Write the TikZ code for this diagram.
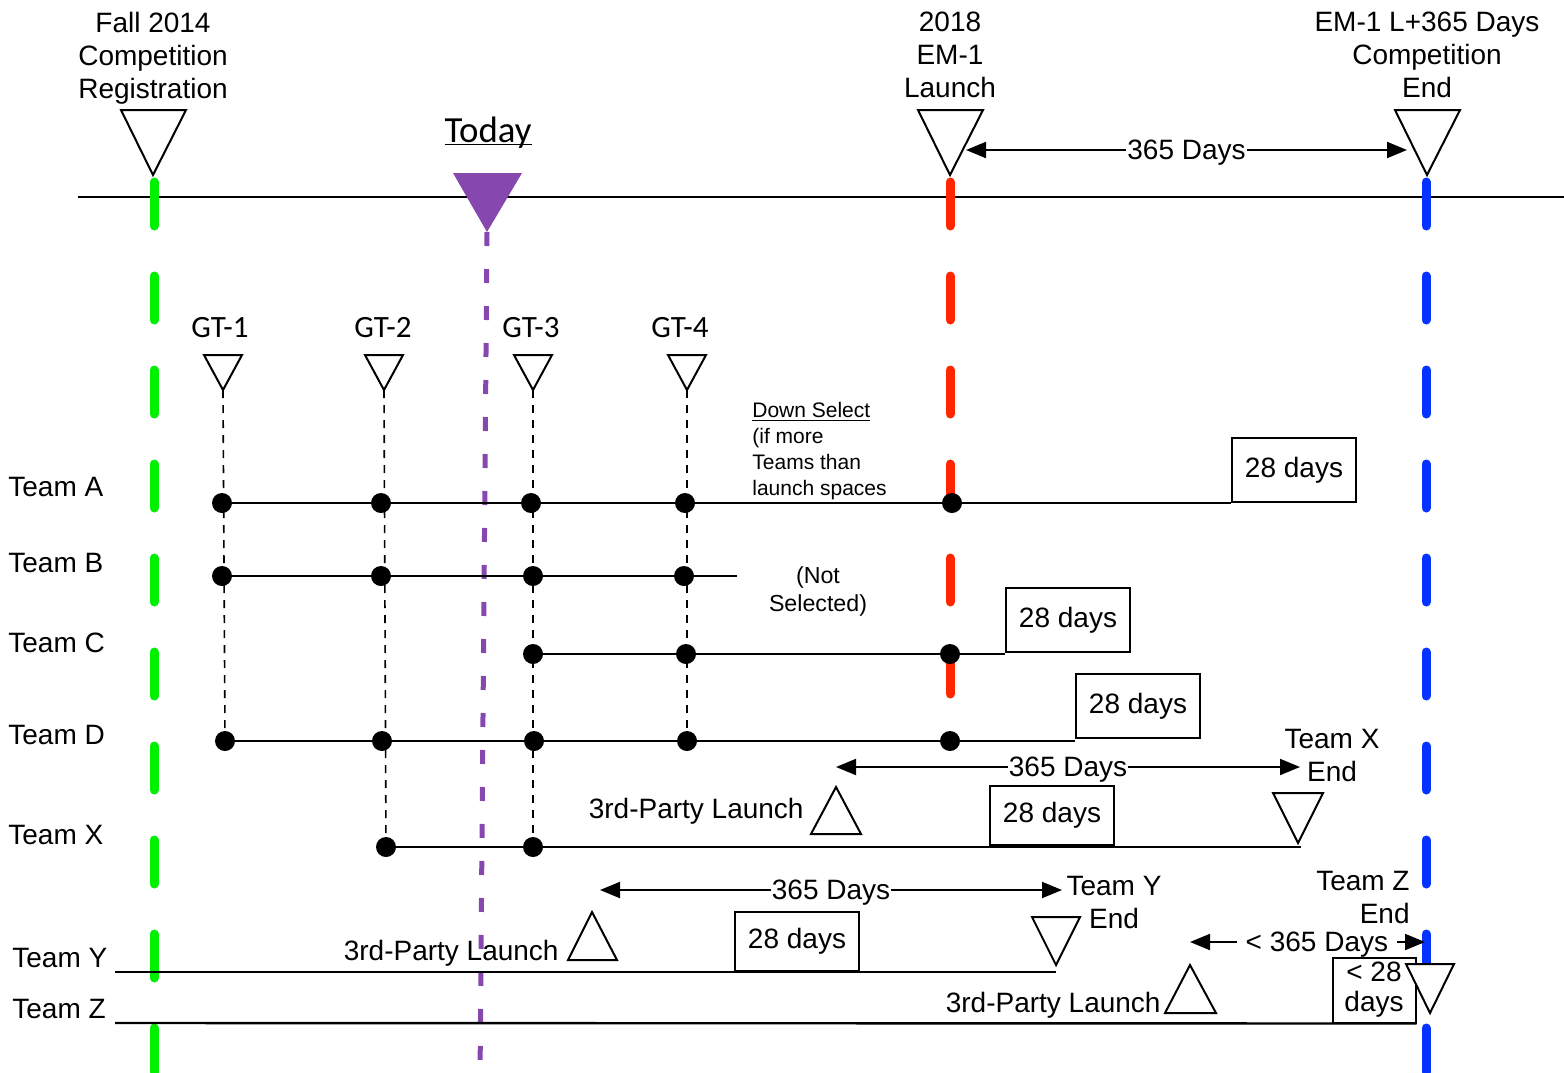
\documentclass[tikz,border=0pt]{standalone}
\usepackage{fontspec}
\setmainfont{Liberation Sans}
\newfontfamily\gtfont{Carlito}
\usetikzlibrary{arrows.meta}
\definecolor{MileGreen}{RGB}{0,240,0}
\definecolor{LaunchRed}{RGB}{255,38,0}
\definecolor{EndBlue}{RGB}{4,51,255}
\definecolor{TodayPurple}{RGB}{134,72,175}

\begin{document}
\begin{tikzpicture}[
  x=0.5pt, y=-0.5pt,
  txt/.style={font=\fontsize{14}{16.5}\selectfont, align=center, inner sep=0pt},
  notetxt/.style={font=\fontsize{10.5}{12.9}\selectfont, align=left, inner sep=0pt},
  gtlabel/.style={font=\gtfont\fontsize{15.5}{18}\selectfont, inner sep=0pt},
  marker/.style={draw=black, line width=1pt, fill=white},
  daysbox/.style={
    draw=black,
    line width=1pt,
    fill=white,
    minimum width=62pt,
    minimum height=32pt,
    align=center,
    inner sep=0pt,
    font=\fontsize{14}{15}\selectfont
  },
  dot/.style={circle, fill=black, minimum size=10pt, inner sep=0pt},
  teamline/.style={black, line width=1.2pt},
  gtline/.style={black, line width=0.8pt, dash pattern=on 4pt off 3.5pt},
  milestone/.style={line width=4.5pt, line cap=round, dash pattern=on 22pt off 25pt},
  spanarrow/.style={>={Triangle[length=10pt,width=8pt]}, <->, line width=1pt},
  spanlbl/.style={fill=white, inner sep=0.6pt, yshift=-1.5pt, font=\fontsize{14}{16}\selectfont}
]
\useasboundingbox (0,0) rectangle (1564,1072);

% main timeline
\coordinate (tlStart) at (78,197);
\coordinate (tlEnd) at (1564,197);
\draw[line width=1pt] (tlStart) -- (tlEnd);

% milestone lines
\coordinate (greenTop) at (154,182);
\coordinate (greenBot) at (154,1080);
\draw[milestone, MileGreen] (greenTop) -- (greenBot);
\coordinate (redTop) at (950,182);
\coordinate (redBot) at (950,694);
\draw[milestone, LaunchRed] (redTop) -- (redBot);
\coordinate (blueTop) at (1426,182);
\coordinate (blueBot) at (1426,1080);
\draw[milestone, EndBlue] (blueTop) -- (blueBot);

% today
\coordinate (todayTip) at (487,232);
\coordinate (todayBot) at (480,1080);
\draw[TodayPurple, line width=2.5pt, dash pattern=on 7pt off 11.5pt] (todayTip) -- (todayBot);
\fill[TodayPurple] (todayTip) -- ++(-34,-59) -- ++(69,0) -- cycle;
\node[font=\gtfont\fontsize{18.4}{20}\selectfont, inner sep=0pt, anchor=base] (today) at (488,142) {\underline{\smash{Today}}};

% top milestones
\node[txt] (fallLbl) at (153,58) {Fall 2014\\Competition\\Registration};
\node[txt] (emLbl) at (950,55) {2018\\EM-1\\Launch};
\node[txt] (endLbl) at (1427,55) {EM-1 L+365 Days\\Competition\\End};
\coordinate (fallTip) at (153,175);
\draw[marker] (fallTip) -- ++(-32,-65) -- ++(65,0) -- cycle;
\coordinate (emTip) at (950,175);
\draw[marker] (emTip) -- ++(-32,-65) -- ++(65,0) -- cycle;
\coordinate (endTip) at (1427,175);
\draw[marker] (endTip) -- ++(-32,-65) -- ++(65,0) -- cycle;

% gate tests
\foreach \x/\lx/\n in {223/220/1, 384/383/2, 533/531/3, 687/680/4} {
  \coordinate (gt\n) at (\x,390);
  \draw[marker] (gt\n) -- ++(-19,-35) -- ++(38,0) -- cycle;
  \node[gtlabel, anchor=base] (gtLbl\n) at (\lx,337) {GT-\n};
}

% team names
\foreach \t/\y in {A/496, B/572, C/652, D/744, X/844}
  \node[txt, anchor=base west] (team\t) at (8,\y) {Team \t};
\node[txt, anchor=base west] (teamY) at (12,967) {Team Y};
\node[txt, anchor=base west] (teamZ) at (12,1018) {Team Z};

\node[notetxt, anchor=west] (downSel) at (752,451)
  {\underline{Down Select}\\(if more\\Teams than\\launch spaces};
\node[txt, font=\fontsize{11.6}{14}\selectfont] (notSel) at (818,591) {(Not\\Selected)};

% dots
\foreach \x [count=\i] in {222,381,531,685,952} \node[dot] (a\i) at (\x,503) {};
\foreach \x [count=\i] in {222,381,533,684} \node[dot] (b\i) at (\x,576) {};
\foreach \x [count=\i] in {533,686,950} \node[dot] (c\i) at (\x,654) {};
\foreach \x [count=\i] in {225,382,534,687,950} \node[dot] (d\i) at (\x,741) {};
\foreach \x [count=\i] in {386,533} \node[dot] (x\i) at (\x,847) {};

% spans
\coordinate (emSpanL) at (966,150);
\coordinate (emSpanR) at (1407,150);
\draw[spanarrow] (emSpanL) -- (emSpanR) node[spanlbl, midway] {365 Days};
\coordinate (xSpanL) at (836,767);
\coordinate (xSpanR) at (1300,767);
\draw[spanarrow] (xSpanL) -- (xSpanR) node[spanlbl, midway] {365 Days};
\coordinate (ySpanL) at (600,890);
\coordinate (ySpanR) at (1062,890);
\draw[spanarrow] (ySpanL) -- (ySpanR) node[spanlbl, midway] {365 Days};
\coordinate (zSpanL) at (1190,942);
\coordinate (zSpanR) at (1425,942);
\draw[spanarrow] (zSpanL) -- (zSpanR) node[spanlbl, pos=0.54, inner xsep=4.5pt] {< 365 Days};

% 28 day boxes
\node[daysbox] (boxA) at (1294,470) {28 days};
\node[daysbox] (boxC) at (1068,620) {28 days};
\node[daysbox] (boxD) at (1138,706) {28 days};
\node[daysbox, minimum height=29.5pt] (boxX) at (1052,815) {28 days};
\node[daysbox, minimum height=29.5pt] (boxY) at (797,941) {28 days};
\node[daysbox, minimum width=41.5pt, minimum height=32.5pt] (boxZ) at (1374,990) {< 28\\days};

% team lines
\draw[teamline] (a1.center) -- (a1 -| boxA.west);
\coordinate (bEnd) at (737,576);
\draw[teamline] (b1.center) -- (bEnd);
\draw[teamline] (c1.center) -- (c1 -| boxC.west);
\draw[teamline] (d1.center) -- (d1 -| boxD.west);
\coordinate (xEnd) at (1301,847);
\draw[teamline] (x1.center) -- (xEnd);
\coordinate (yStart) at (115,972);
\coordinate (yEnd) at (1056,972);
\draw[teamline] (yStart) -- (yEnd);
\coordinate (zStart) at (115,1023);
\draw[teamline] (zStart) -- (boxZ.south east);

\draw[gtline] (gt1) -- (d1);
\draw[gtline] (gt2) -- (x1);
\draw[gtline] (gt3) -- (x2);
\draw[gtline] (gt4) -- (d4);

% third-party launches and team ends
\coordinate (xLaunch) at (836,787);
\draw[marker] (xLaunch) -- ++(-25,47) -- ++(50,0) -- cycle;
\node[txt, anchor=base east] (xLaunchLbl) at (804,818) {3rd-Party Launch};
\coordinate (xEndTip) at (1298,843);
\draw[marker] (xEndTip) -- ++(-25,-50) -- ++(50,0) -- cycle;
\node[txt] (xEndLbl) at (1332,755) {Team X\\End};

\coordinate (yLaunch) at (592,912);
\draw[marker] (yLaunch) -- ++(-24,48) -- ++(49,0) -- cycle;
\node[txt, anchor=base east] (yLaunchLbl) at (559,960) {3rd-Party Launch};
\coordinate (yEndTip) at (1056,965);
\draw[marker] (yEndTip) -- ++(-24,-48) -- ++(48,0) -- cycle;
\node[txt] (yEndLbl) at (1114,902) {Team Y\\End};

\coordinate (zLaunch) at (1190,965);
\draw[marker] (zLaunch) -- ++(-25,48) -- ++(51,0) -- cycle;
\node[txt, anchor=base east] (zLaunchLbl) at (1161,1012) {3rd-Party Launch};
\node[txt, anchor=east, align=right] (zEndLbl) at (1410,897) {Team Z\\End};
\coordinate (zEndTip) at (1430,1013);
\draw[marker] (zEndTip) -- ++(-24,-49) -- ++(48,0) -- cycle;

\end{tikzpicture}
\end{document}
